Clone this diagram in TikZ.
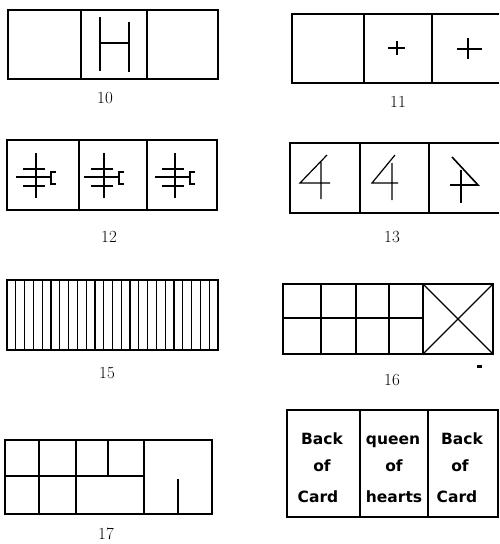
\documentclass[tikz,border=0pt]{standalone}
\usepackage{fontspec}
\newfontfamily\hand{DejaVu Sans}
\tikzset{
  box/.style={line width=1.6pt},
  fine/.style={line width=1.2pt},
  thick grid/.style={line width=2.6pt},
  lab/.style={font=\fontsize{17}{17}\selectfont, inner sep=0pt},
  cardtxt/.style={font=\hand\bfseries\fontsize{15.5}{15.5}\selectfont, anchor=base, inner sep=0pt}
}
\begin{document}
\begin{tikzpicture}[x=1pt,y=-1pt]
\useasboundingbox (0,0) rectangle (499,544);

% ---------- 10 ----------
\draw[box] (8,10) rectangle (218,79);
\draw[box] (81,10) -- (81,79) (147,10) -- (147,79);
\draw[box] (100,17) -- (100,71) (129,22) -- (129,72) (100,43) -- (129,43);
\node[lab] (l10) at (105,98) {10};

% ---------- 11 ----------
\draw[box] (499,14) -- (292,14) -- (292,83) -- (499,83);
\draw[box] (364,14) -- (364,83) (432,14) -- (432,83);
\draw[box] (388,48) -- (405,48) (397,41) -- (397,55);
\draw[box] (457,49) -- (482,49) (468,38) -- (468,59);
\node[lab] (l11) at (398,102) {11};

% ---------- 12 ----------
\draw[box] (7,140) rectangle (217,210);
\draw[box] (79,140) -- (79,210) (147,140) -- (147,210);
\foreach \c in {36,104,175}{
  \draw[line width=2pt] (\c,153) -- (\c,198);
  \draw[line width=2pt] ({\c-13},169) -- ({\c+9},169);
  \draw[line width=2pt] ({\c-13},186) -- ({\c+9},186);
  \draw[line width=2pt] ({\c-20},177) -- ({\c+14},177);
  \draw[line width=2.4pt] ({\c+20},172) -- ({\c+15},172) -- ({\c+15},184) -- ({\c+20},184);
}
\node[lab] (l12) at (109,237) {12};

% ---------- 13 ----------
\draw[box] (499,143) -- (290,143) -- (290,213) -- (499,213);
\draw[box] (360,143) -- (360,213) (429,143) -- (429,213);
\draw[fine] (327,155) -- (300,183) -- (330,183) (321,162) -- (321,199);
\draw[fine] (395,155) -- (372,183) -- (398,183) (392,163) -- (392,200);
\draw[box] (452,157) -- (478,185) -- (450,185);
\draw[box] (461,170) -- (461,203);
\node[lab] (l13) at (392,237) {13};

% ---------- 15 ----------
\draw[box] (7,280) rectangle (218,350);
\foreach \i in {1,...,23}{
  \draw[fine] ({7+\i*211/24},280) -- ({7+\i*211/24},350);
}
\node[lab] (l15) at (107,373) {15};

% ---------- 16 ----------
\draw[box] (283,284) rectangle (493,354);
\draw[thick grid] (321,284) -- (321,354) (356,284) -- (356,354) (389,284) -- (389,354);
\draw[box] (423,284) -- (423,354);
\draw[thick grid] (283,318) -- (423,318);
\draw[fine] (423,284) -- (493,354) (493,284) -- (423,354);
\fill (477,365) rectangle (482,368);
\node[lab] (l16) at (392,380) {16};

% ---------- 17 ----------
\draw[box] (5,440) rectangle (212,514);
\draw[box] (39,440) -- (39,514) (76,440) -- (76,514) (108,440) -- (108,476) (144,440) -- (144,514);
\draw[thick grid] (5,476) -- (144,476);
\draw[box] (178,479) -- (178,514);
\node[lab] (l17) at (106,534) {17};

% ---------- 18 (cards) ----------
\draw[box] (287,410) rectangle (498,517);
\draw[box] (360,410) -- (360,517) (428,410) -- (428,517);
\node[cardtxt] (c1a) at (322,444) {Back};
\node[cardtxt] (c1b) at (322,471) {of};
\node[cardtxt] (c1c) at (318,502) {Card};
\node[cardtxt] (c2a) at (393,444) {queen};
\node[cardtxt] (c2b) at (394,471) {of};
\node[cardtxt] (c2c) at (394,502) {hearts};
\node[cardtxt] (c3a) at (462,444) {Back};
\node[cardtxt] (c3b) at (460,471) {of};
\node[cardtxt] (c3c) at (457,502) {Card};
\end{tikzpicture}
\end{document}
